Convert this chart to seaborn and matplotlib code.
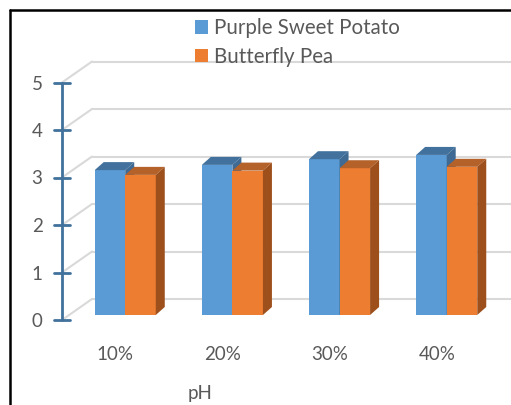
import numpy as np
import pandas as pd
import matplotlib
matplotlib.use("Agg")
import matplotlib.pyplot as plt
import seaborn as sns
from matplotlib.patches import Polygon, Patch
from matplotlib.lines import Line2D
from matplotlib.transforms import ScaledTranslation

# data
categories = ["10%", "20%", "30%", "40%"]
series_names = ["Purple Sweet Potato", "Butterfly Pea"]
purple_sweet_potato = [3.05, 3.16, 3.28, 3.37]
butterfly_pea = [2.95, 3.04, 3.09, 3.12]
y_ticks = [0, 1, 2, 3, 4, 5]

front_colors = ["#5B9BD5", "#ED7D31"]
top_colors = ["#41719C", "#B4612A"]
side_colors = ["#3E6A93", "#9E501C"]
text_gray = "#595959"
grid_gray = "#D9D9D9"
axis_blue = "#41719C"

df = pd.DataFrame({
    "pH": categories * 2,
    "value": purple_sweet_potato + butterfly_pea,
    "series": [series_names[0]] * 4 + [series_names[1]] * 4,
})

sns.set_style("white")
plt.rcParams["font.family"] = ["Lato", "DejaVu Sans"]

W, H = 511, 405
fig = plt.figure(figsize=(W / 100, H / 100), dpi=100)
# axes in pixel terms: left 62, right 511, bottom (bar front floor) 315, 47.5 px per unit
ax = fig.add_axes([62 / W, (H - 315) / H, 449 / W, 5.5 * 47.5 / H])

ux = 4.19 / 449    # data units per pixel, x
uy = 1 / 47.5      # data units per pixel, y

sns.barplot(data=df, x="pH", y="value", hue="series", palette=front_colors,
            width=0.57, saturation=1, legend=False, ax=ax, linewidth=0, zorder=2)
ax.set_xlim(-0.59, 3.6)
ax.set_ylim(0, 5.5)

# fake 3d faces on each bar
dx, dy = 9 * ux, 8 * uy
bars = [p for p in ax.patches]
for i, bar in enumerate(bars):
    s = i // len(categories)
    z = 2 + s
    bar.set_zorder(z)
    x, w, h = bar.get_x(), bar.get_width(), bar.get_height()
    top = Polygon([(x, h), (x + w, h), (x + w + dx, h + dy), (x + dx, h + dy)],
                  closed=True, facecolor=top_colors[s], edgecolor="none", zorder=z)
    side = Polygon([(x + w, 0), (x + w, h), (x + w + dx, h + dy), (x + w + dx, dy)],
                   closed=True, facecolor=side_colors[s], edgecolor="none", zorder=z)
    ax.add_patch(top)
    ax.add_patch(side)

# back wall gridlines + diagonals to the front axis
x0 = -0.59
back_dx, back_dy = 30 * ux, 16 * uy
front_dy = -5 * uy
for v in y_ticks:
    ax.plot([x0 + back_dx, 3.6], [v + back_dy, v + back_dy], color=grid_gray, lw=1.5,
            zorder=1, clip_on=False)
    ax.plot([x0, x0 + back_dx], [v + front_dy, v + back_dy], color=grid_gray, lw=1.5,
            zorder=1, clip_on=False)

# front value axis with cross ticks
ax.plot([x0, x0], [0 + front_dy, 5 + front_dy], color=axis_blue, lw=2, zorder=5, clip_on=False)
for v in y_ticks:
    ax.plot([x0 - 8 * ux, x0 + 8 * ux], [v + front_dy, v + front_dy], color=axis_blue,
            lw=2, zorder=5, clip_on=False)

for sp in ax.spines.values():
    sp.set_visible(False)
ax.set_facecolor("none")

ax.set_yticks(y_ticks)
ax.set_yticklabels([str(t) for t in y_ticks])
ax.tick_params(axis="y", length=0, pad=14, labelsize=13.5, labelcolor=text_gray)
ax.tick_params(axis="x", length=0, pad=22, labelsize=13.5, labelcolor=text_gray)
for lab in ax.get_yticklabels():
    lab.set_transform(lab.get_transform() + ScaledTranslation(0, -5 / 100, fig.dpi_scale_trans))
for lab in ax.get_xticklabels():
    lab.set_transform(lab.get_transform() + ScaledTranslation(-10 / 100, 0, fig.dpi_scale_trans))

ax.set_ylabel("")
ax.set_xlabel("pH", fontsize=13.5, color=text_gray)
ax.xaxis.set_label_coords((200 - 62) / 449, (315 - 385) / (5.5 * 47.5))

handles = [Patch(facecolor=c, edgecolor="none") for c in front_colors]
fig.legend(handles, series_names, loc="upper left", bbox_to_anchor=(187 / W, 1 - 10 / H),
           frameon=False, fontsize=14.8, labelcolor=text_gray, handlelength=0.62,
           handleheight=0.62, handletextpad=0.3, labelspacing=0.42, borderaxespad=0)

# outer frame (only top and left visible in the crop)
fig.add_artist(Line2D([9.5 / W, 9.5 / W], [0, 1 - 9.5 / H], color="black", lw=1.8,
                      transform=fig.transFigure))
fig.add_artist(Line2D([9.5 / W, 1], [1 - 9.5 / H, 1 - 9.5 / H], color="black", lw=1.8,
                      transform=fig.transFigure))

fig.savefig("out.png", dpi=100, facecolor="white")
